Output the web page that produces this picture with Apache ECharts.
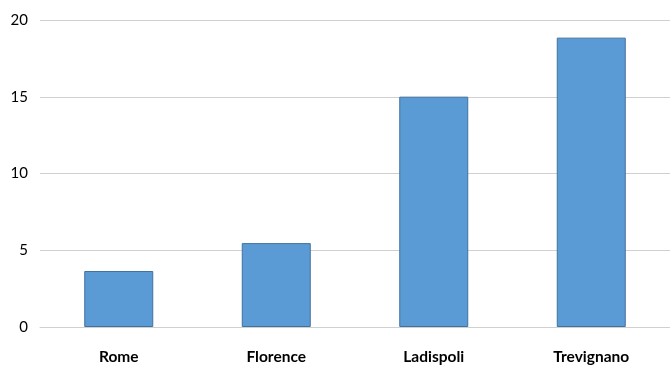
<!DOCTYPE html>
<html>
<head>
<meta charset="utf-8">
<script src="https://cdn.jsdelivr.net/npm/echarts@6/dist/echarts.min.js"></script>
<style>
  html, body { margin: 0; padding: 0; background: #ffffff; }
  #chart { width: 670px; height: 365px; }
</style>
</head>
<body>
<div id="chart"></div>
<script>
// Towns along the category axis
const towns = ['Rome', 'Florence', 'Ladispoli', 'Trevignano'];
// Bar heights for each town
const values = [3.65, 5.47, 15.02, 18.87];
// Value axis range and step
const yMin = 0;
const yMax = 20;
const yStep = 5;

const chart = echarts.init(document.getElementById('chart'), null, { renderer: 'canvas' });

chart.setOption({
  animation: false,
  backgroundColor: '#ffffff',
  grid: { left: 40, top: 20.3, width: 640, height: 307, containLabel: false },
  xAxis: {
    type: 'category',
    data: towns,
    axisLine: { show: true, lineStyle: { color: '#d0d0d0', width: 1 } },
    axisTick: { show: false },
    axisLabel: {
      color: '#000000',
      fontFamily: 'Lato',
      fontWeight: 'bold',
      fontSize: 15.5,
      margin: 22
    }
  },
  yAxis: {
    type: 'value',
    min: yMin,
    max: yMax,
    interval: yStep,
    axisLine: { show: false },
    axisTick: { show: false },
    splitLine: { lineStyle: { color: '#d0d0d0', width: 1 } },
    axisLabel: {
      color: '#000000',
      fontFamily: 'Lato',
      fontSize: 15,
      margin: 12
    }
  },
  series: [{
    type: 'bar',
    data: values,
    barWidth: 69,
    itemStyle: {
      color: '#5b9bd5',
      borderColor: '#41719c',
      borderWidth: 1
    }
  }]
});
</script>
</body>
</html>
